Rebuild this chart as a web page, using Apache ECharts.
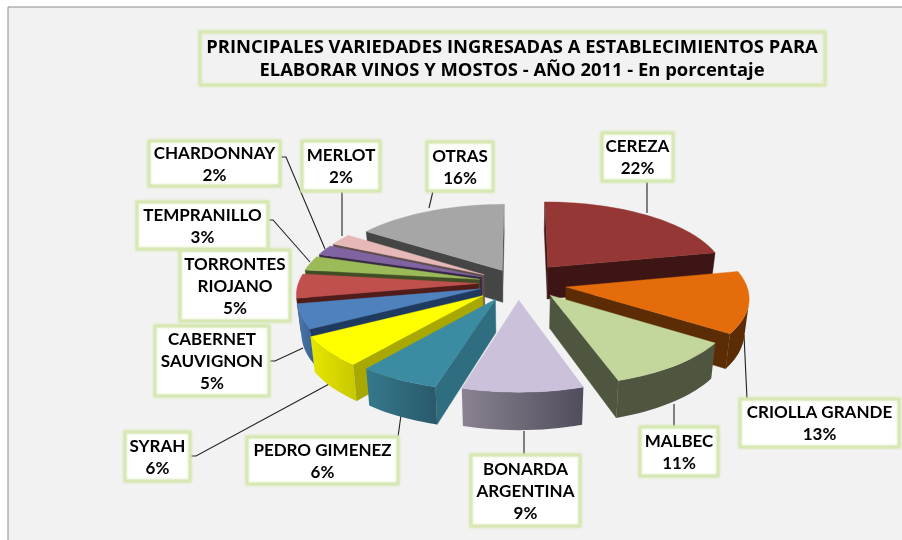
<!DOCTYPE html>
<html><head><meta charset="utf-8">
<style>html,body{margin:0;padding:0;background:#fff}#c{width:902px;height:540px}</style>
<script src="https://cdn.jsdelivr.net/npm/echarts@6/dist/echarts.min.js"></script>
</head><body><div id="c"></div>
<script>
const categories=['CEREZA','CRIOLLA GRANDE','MALBEC','BONARDA ARGENTINA','PEDRO GIMENEZ','SYRAH','CABERNET SAUVIGNON','TORRONTES RIOJANO','TEMPRANILLO','CHARDONNAY','MERLOT','OTRAS'];
const values=[21.7,12.8,10.5,9.4,6.3,6.2,5.1,5,3,2.1,2.4,15.5];
const explode=[.27,.27,.235,.22,.24,.25,.22,.22,.22,.22,.22,.19];
const explodeTurn=[0,0,-.2,0,.06,0,0,0,0,0,0,0];
const topColors=['#953735','#e46c0a','#c3d69b','#ccc1da','#3b8ba3','#ffff00','#4f81bd','#c0504d','#9bbb59','#8064a2','#e6b9b8','#a6a6a6'];
const sideColors=['#3d1515','#5c2d05','#4f5640','#6a6675','#2f6d80','#a8a800','#1f3a5f','#4f1c1a','#414e25','#362a44','#5f4d4d','#454545'];
const rimLeft=['#3d1515','#5c2d05','#4f5640','#8a8290','#35798c','#e6e600','#4a78b0','#4f1c1a','#414e25','#362a44','#5f4d4d','#454545'];
const rimRight=['#3d1515','#5c2d05','#4f5640','#504d5c','#29596a','#c8c800','#3a6090','#4f1c1a','#414e25','#362a44','#5f4d4d','#454545'];

const title=['PRINCIPALES VARIEDADES INGRESADAS A ESTABLECIMIENTOS PARA','ELABORAR VINOS Y MOSTOS - AÑO 2011 - En porcentaje'];
const labelLines=[['CEREZA'],['CRIOLLA GRANDE'],['MALBEC'],['BONARDA','ARGENTINA'],['PEDRO GIMENEZ'],['SYRAH'],['CABERNET','SAUVIGNON'],['TORRONTES','RIOJANO'],['TEMPRANILLO'],['CHARDONNAY'],['MERLOT'],['OTRAS']];
const labelBoxes=[[602,133,71,48],[740,399,159,48],[640,427,78,49],[471,455,109,71],[247,437,151,47],[125,432,65,49],[155,326,114,70],[180,250,110,71],[137,202,131,47],[149,141,131,45],[302,141,78,50],[427,142,66,49]];
const leaders=[[[647,181],[647,213]],[[747,399],[744,335]],[[674,427],[674,404]],[[524,455],[524,431]],[[398,437],[401,415]],[[190,456],[196,456],[331,383]],[[269,361],[275,361],[303,348]],[],[[268,220],[273,220],[310,262]],[[280,157],[286,157],[325,249]],[[342,191],[342,236]],[[433,191],[429,208]]];

// projection of the tilted pie
const cx=518,cy=283,rx=180,ry=76.6,k=.118,depth=32.5,flare=.02;
function proj(X,Y){const s=1/(1-k*Y);return [cx+rx*X*s,cy+ry*Y*s,depth*s];}
function lower(p){return [p[0]-(p[0]-cx)*flare,p[1]+p[2]];}
const total=values.reduce((a,b)=>a+b,0);
let acc=0;
const slices=values.map((v,i)=>{
  const a0=acc/total*2*Math.PI;acc+=v;const a1=acc/total*2*Math.PI;const m=(a0+a1)/2;
  const d=m+explodeTurn[i];
  const ex=explode[i]*Math.sin(d),ey=-explode[i]*Math.cos(d);
  const rim=[];const n=Math.max(4,Math.ceil((a1-a0)/.04));
  for(let j=0;j<=n;j++){const t=a0+(a1-a0)*j/n;rim.push(proj(ex+Math.sin(t),ey-Math.cos(t)));}
  return {i,apex:proj(ex,ey),rim,my:-explode[i]*Math.cos(m)-Math.cos(m)*.6};
});
const order=slices.slice().sort((a,b)=>a.my-b.my).map(s=>s.i);

function area(pts){let s=0;for(let i=0;i<pts.length;i++){const a=pts[i],b=pts[(i+1)%pts.length];s+=a[0]*b[1]-b[0]*a[1];}return s;}
function poly(points,fill,z){return {type:'polygon',z2:z,shape:{points},style:{fill,stroke:fill,lineWidth:.4}};}
function renderSlice(params,api){
  const s=slices[api.value(0)],c=[];const i=s.i;
  const first=s.rim[0],last=s.rim[s.rim.length-1];
  const xy=p=>[p[0],p[1]];
  const wallA=[xy(s.apex),xy(first),lower(first),lower(s.apex)];
  const wallB=[xy(last),xy(s.apex),lower(s.apex),lower(last)];
  if(area(wallA)<0) c.push(poly(wallA,sideColors[i],1));
  if(area(wallB)<0) c.push(poly(wallB,sideColors[i],1));
  const run=[];
  for(let j=0;j<s.rim.length-1;j++){
    const a=s.rim[j],b=s.rim[j+1];
    if(area([xy(a),xy(b),lower(b),lower(a)])<0) run.push(a,b);
  }
  if(run.length){
    const top=run.map(xy),bot=run.map(lower).reverse();
    c.push({type:'polygon',z2:2,shape:{points:top.concat(bot)},style:{
      fill:{type:'linear',x:0,y:0,x2:1,y2:0,colorStops:[{offset:0,color:rimLeft[i]},{offset:1,color:rimRight[i]}]}}});
  }
  c.push(poly([xy(s.apex)].concat(s.rim.map(xy)),topColors[i],3));
  return {type:'group',children:c};
}

const g=[];
g.push({type:'rect',z:0,shape:{x:8,y:7,width:900,height:540},style:{fill:'#f2f2f2',stroke:'#8c8c8c',lineWidth:1}});
const glow={stroke:'#d7e8b4',lineWidth:3,shadowColor:'rgba(200,228,150,.6)',shadowBlur:3};
g.push({type:'rect',z:1,shape:{x:200,y:32,width:625,height:53},style:Object.assign({fill:'#f2f2f2'},glow)});
title.forEach((t,i)=>g.push({type:'text',z:1,style:{x:512,y:47.5+i*23.5,text:t,fill:'#000',font:'bold 18.4px "Open Sans"',align:'center',verticalAlign:'middle'}}));
leaders.forEach((l,i)=>{if(l.length)g.push({type:'polyline',z:1,shape:{points:l},style:{fill:null,stroke:'#222',lineWidth:1.1}});});
categories.forEach((c,i)=>{
  const b=labelBoxes[i],lines=labelLines[i].concat([Math.round(values[i])+'%']);
  g.push({type:'rect',z:5,shape:{x:b[0],y:b[1],width:b[2],height:b[3]},style:Object.assign({fill:'#fff'},glow)});
  const lh=22,y0=b[1]+b[3]/2-lh*(lines.length-1)/2+1;
  lines.forEach((t,j)=>g.push({type:'text',z:6,style:{x:b[0]+b[2]/2,y:y0+j*lh,text:t,fill:'#000',font:'bold 17px Lato',align:'center',verticalAlign:'middle'}}));
});

const chart=echarts.init(document.getElementById('c'),null,{renderer:'canvas'});
chart.setOption({animation:false,backgroundColor:'#fff',
  graphic:{elements:g},
  series:[{type:'custom',coordinateSystem:'none',z:3,silent:true,renderItem:renderSlice,encode:{},
    data:order.map(i=>[i,values[i]])}]
});
</script></body></html>
